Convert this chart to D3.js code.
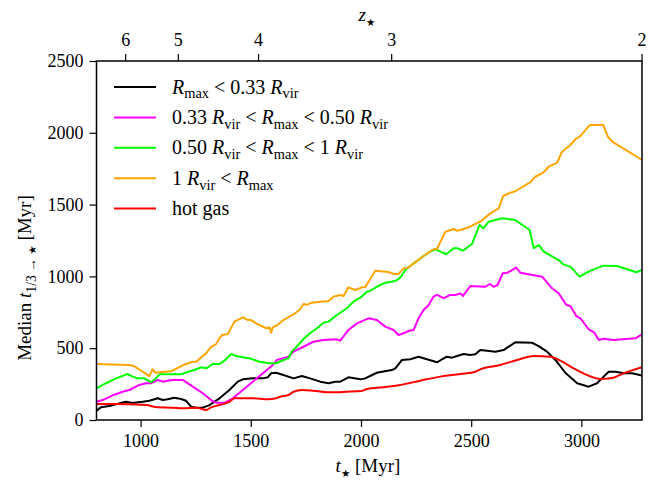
<!DOCTYPE html>
<html><head><meta charset="utf-8">
<script src="https://cdn.jsdelivr.net/npm/d3@7"></script>
<style>
body{margin:0;background:#fff}
text{font-family:"Liberation Serif","Times New Roman",serif;fill:#000}
</style>
</head><body><svg id="c" width="659" height="481"></svg>
<script>
// ---------- data ----------
const xTicks = [1000, 1500, 2000, 2500, 3000];
const yTicks = [0, 500, 1000, 1500, 2000, 2500];
const zTickLabels = ["6", "5", "4", "3", "2"];
const zTickTimes = [930, 1169, 1533, 2137, 3273];

const tBlack = [800,820,858,904,934,957,972,1010,1040,1078,1101,1123,1153,1184,1206,1229,1252,1282,1312,1358,1403,1441,1464,1509,1555,1577,1592,1615,1648,1694,1732,1769,1815,1853,1883,1906,1943,1997,2019,2072,2095,2140,2156,2186,2224,2261,2299,2345,2368,2390,2413,2436,2466,2496,2519,2541,2572,2610,2647,2700,2776,2806,2844,2882,2927,2981,3033,3071,3101,3124,3155,3192,3230,3275];
const vBlack = [65,88,97,116,127,120,120,127,134,151,139,144,155,146,134,93,86,86,104,151,209,267,283,290,290,297,325,329,313,290,306,290,267,256,267,267,297,283,290,329,336,348,360,418,423,441,423,402,423,441,434,446,460,453,458,487,483,476,487,541,538,515,476,418,329,256,232,256,302,336,336,325,325,309];

const tMagenta = [800,828,874,919,949,994,1025,1047,1078,1101,1123,1146,1191,1237,1282,1320,1343,1380,1418,1464,1509,1555,1600,1618,1671,1694,1739,1784,1830,1891,1906,1943,1982,2034,2072,2110,2148,2170,2193,2216,2239,2261,2284,2307,2329,2345,2375,2405,2428,2451,2463,2496,2564,2584,2602,2620,2643,2665,2704,2723,2822,2867,2897,2932,2950,2977,2996,3033,3059,3079,3101,3147,3245,3275];
const vMagenta = [127,139,172,197,209,244,256,256,279,267,274,279,279,232,186,139,120,120,151,209,267,325,383,418,441,476,510,545,557,562,552,627,673,708,696,650,627,592,604,620,627,708,766,801,859,871,848,871,871,882,864,933,928,947,928,940,1022,1026,1061,1026,998,917,882,801,794,724,708,632,608,557,566,557,569,597];

const tGreen = [800,843,889,942,964,987,1017,1047,1070,1085,1184,1214,1244,1275,1297,1328,1358,1380,1411,1433,1464,1494,1539,1585,1615,1648,1671,1686,1701,1739,1769,1800,1830,1853,1891,1936,1966,1997,2027,2042,2072,2110,2156,2178,2201,2239,2284,2314,2337,2360,2387,2420,2437,2463,2504,2538,2556,2579,2640,2700,2765,2784,2806,2829,2897,2917,2950,2992,3041,3101,3162,3250,3275];
const vGreen = [221,256,290,320,302,290,290,263,290,318,318,336,348,367,360,390,390,413,460,446,437,430,406,395,395,418,430,476,499,564,604,639,678,685,731,778,824,852,893,900,928,956,968,991,1045,1091,1142,1172,1189,1172,1154,1196,1196,1179,1226,1358,1335,1381,1405,1393,1323,1196,1219,1172,1114,1084,1068,998,1040,1075,1072,1029,1045];

const tOrange = [800,948,970,1040,1055,1067,1085,1138,1191,1237,1252,1297,1320,1343,1358,1370,1396,1426,1464,1487,1502,1524,1570,1585,1592,1600,1615,1648,1701,1724,1739,1755,1777,1815,1853,1875,1906,1921,1943,1974,2004,2019,2065,2125,2148,2170,2193,2209,2284,2329,2345,2383,2420,2436,2451,2496,2519,2541,2587,2625,2645,2678,2700,2769,2791,2826,2852,2890,2912,2950,2973,2996,3038,3099,3120,3147,3275];
const vOrange = [390,383,376,306,353,329,332,339,381,406,406,464,510,529,569,592,599,685,715,696,696,673,639,646,608,646,655,696,743,771,808,803,817,824,829,859,871,864,924,905,924,924,1040,1031,1017,1017,1056,1056,1142,1189,1193,1311,1330,1318,1323,1346,1365,1381,1439,1474,1560,1583,1593,1657,1694,1722,1764,1792,1868,1915,1955,1978,2054,2054,1973,1931,1811];

const tRed = [800,874,1025,1078,1146,1191,1252,1297,1320,1358,1403,1426,1509,1577,1615,1633,1671,1694,1732,1784,1860,1936,2004,2027,2102,2178,2269,2360,2451,2519,2541,2632,2708,2783,2859,2905,2965,3026,3086,3132,3192,3275];
const vRed = [111,111,104,88,86,81,86,70,88,104,127,151,151,144,151,162,174,197,209,204,193,197,202,216,228,244,274,302,320,336,353,383,418,446,441,413,360,313,286,290,325,367];

const seriesNames = ["black", "magenta", "green", "orange", "red"];
const seriesColors = ["#000000", "#ff00ff", "#00ff00", "#ffa500", "#ff0000"];
const seriesT = [tBlack, tMagenta, tGreen, tOrange, tRed];
const seriesV = [vBlack, vMagenta, vGreen, vOrange, vRed];

// legend label parts: [text, style]  style: "" roman, "i" italic, "s" subscript, "st" star subscript
const legendParts = [
  [["R","i"],["max","s"],[" < 0.33 ",""],["R","i"],["vir","s"]],
  [["0.33 ",""],["R","i"],["vir","s"],[" < ",""],["R","i"],["max","s"],[" < 0.50 ",""],["R","i"],["vir","s"]],
  [["0.50 ",""],["R","i"],["vir","s"],[" < ",""],["R","i"],["max","s"],[" < 1 ",""],["R","i"],["vir","s"]],
  [["1 ",""],["R","i"],["vir","s"],[" < ",""],["R","i"],["max","s"]],
  [["hot gas",""]]
];

// ---------- layout ----------
const W = 659, H = 481;
const L = 96.5, R = 642, T = 61, B = 420;
const FS = 18, FL = 19, FLEG = 20;

const svg = d3.select("#c");
const x = d3.scaleLinear().domain([800, 3275]).range([L, R]);
const y = d3.scaleLinear().domain([0, 2500]).range([B, T]);

function rich(sel, parts, size) {
  let shift = 0;
  parts.forEach(([s, st]) => {
    const tsp = sel.append("tspan").text(s);
    if (st === "i") tsp.attr("font-style", "italic");
    if (st === "s" || st === "st") {
      tsp.attr("font-size", size * (st === "st" ? 0.55 : 0.72)).attr("dy", size * 0.24 - shift);
      if (st === "st") tsp.attr("font-family", '"DejaVu Sans",sans-serif');
      shift = size * 0.24;
    } else if (shift !== 0) {
      tsp.attr("dy", -shift);
      shift = 0;
    }
  });
}

svg.append("defs").append("clipPath").attr("id", "clip")
  .append("rect").attr("x", L).attr("y", T).attr("width", R - L).attr("height", B - T);

// lines
const g = svg.append("g").attr("clip-path", "url(#clip)");
seriesNames.forEach((n, k) => {
  const pts = seriesT[k].map((t, i) => [t, seriesV[k][i]]);
  const line = d3.line().x(d => x(d[0])).y(d => y(d[1]))
    .curve(n === "red" ? d3.curveMonotoneX : d3.curveLinear);
  g.append("path").datum(pts).attr("d", line)
    .attr("fill", "none").attr("stroke", seriesColors[k])
    .attr("stroke-width", 2).attr("stroke-linejoin", "round");
});

// axes
function styleAxis(ax) {
  ax.select(".domain").remove();
  ax.selectAll(".tick line").attr("stroke", "#000").attr("stroke-width", 1.2);
  ax.selectAll(".tick text").attr("font-size", FS).attr("font-family", '"Liberation Serif",serif').attr("fill", "#000");
}
const xb = svg.append("g").attr("transform", `translate(0,${B})`)
  .call(d3.axisBottom(x).tickValues(xTicks).tickSize(7).tickPadding(7).tickFormat(d3.format("d")));
styleAxis(xb);
const yl = svg.append("g").attr("transform", `translate(${L},0)`)
  .call(d3.axisLeft(y).tickValues(yTicks).tickSize(7).tickPadding(6).tickFormat(d3.format("d")));
styleAxis(yl);
const zt = svg.append("g").attr("transform", `translate(0,${T})`)
  .call(d3.axisTop(x).tickValues(zTickTimes).tickSize(7).tickPadding(8).tickFormat((d, i) => zTickLabels[i]));
styleAxis(zt);

// frame
svg.append("rect").attr("x", L).attr("y", T).attr("width", R - L).attr("height", B - T)
  .attr("fill", "none").attr("stroke", "#000").attr("stroke-width", 1.5);

// axis labels
rich(svg.append("text").attr("x", 368).attr("y", 472).attr("text-anchor", "middle").attr("font-size", FL),
  [["t","i"],["★","st"],[" [Myr]",""]], FL);
rich(svg.append("text").attr("x", 367).attr("y", 21).attr("text-anchor", "middle").attr("font-size", FL),
  [["z","i"],["★","st"]], FL);
rich(svg.append("text").attr("transform", "translate(31,278) rotate(-90)").attr("text-anchor", "middle").attr("font-size", FL),
  [["Median ",""],["t","i"],["1/3 → ","s"],["★","st"],[" [Myr]",""]], FL);

// legend
const legY0 = 87, legDY = 30.4;
legendParts.forEach((parts, k) => {
  const yy = legY0 + k * legDY;
  svg.append("line").attr("x1", 114).attr("x2", 156).attr("y1", yy).attr("y2", yy)
    .attr("stroke", seriesColors[k]).attr("stroke-width", 2);
  rich(svg.append("text").attr("x", 172).attr("y", yy + 6.5).attr("font-size", FLEG), parts, FLEG);
});
</script>
</body></html>
